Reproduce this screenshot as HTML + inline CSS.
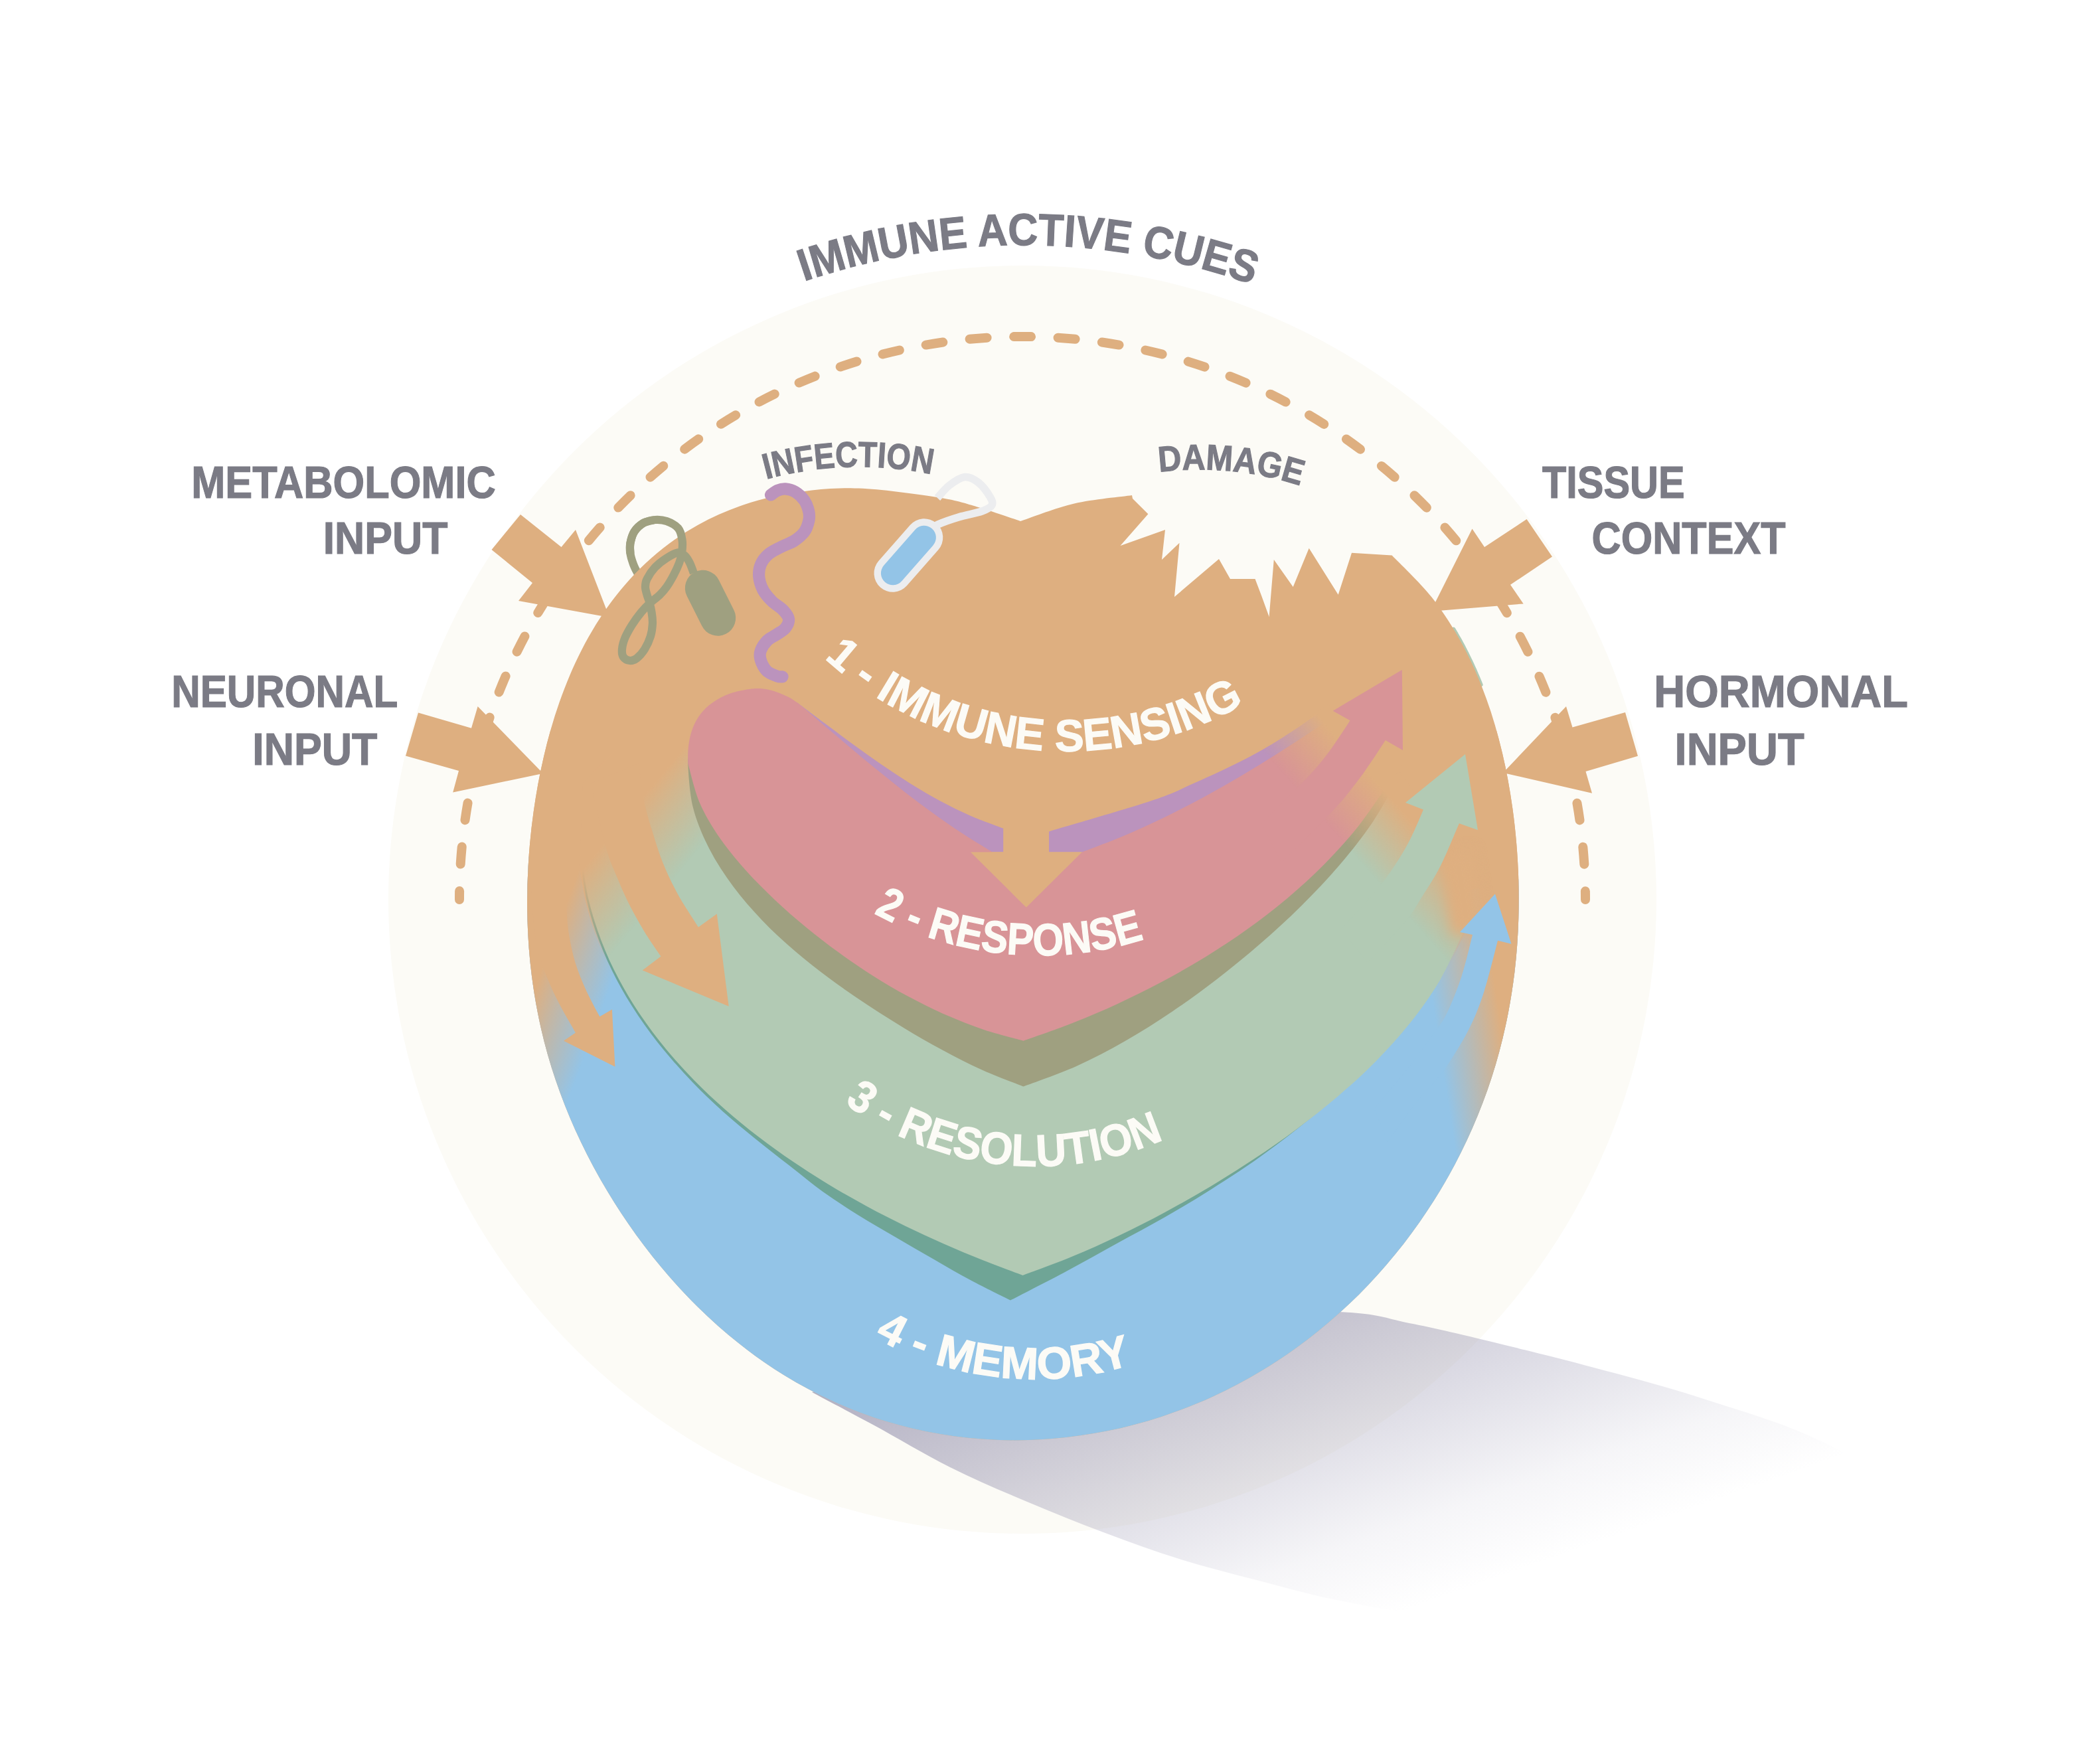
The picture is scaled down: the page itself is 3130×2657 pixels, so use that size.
<!DOCTYPE html>
<html><head><meta charset="utf-8"><title>Immune active cues</title>
<style>html,body{margin:0;padding:0;background:#fff}svg{display:block}text{font-family:"Liberation Sans",sans-serif}</style></head>
<body><svg width="3130" height="2657" viewBox="0 0 3130 2657">
<defs><linearGradient id="gsh" gradientUnits="userSpaceOnUse" x1="1223" y1="2097" x2="1426.7" y2="2671.6"><stop offset="0" stop-color="#9693AF" stop-opacity="0.73"/><stop offset="0.45" stop-color="#9693AF" stop-opacity="0.37"/><stop offset="0.8" stop-color="#9693AF" stop-opacity="0.09"/><stop offset="1" stop-color="#9693AF" stop-opacity="0"/></linearGradient><linearGradient id="gL" gradientUnits="userSpaceOnUse" x1="1162" y1="968.3" x2="1250.3" y2="1041.9"><stop offset="0" stop-color="#DEAF80" stop-opacity="1"/><stop offset="1" stop-color="#DEAF80" stop-opacity="0"/></linearGradient><linearGradient id="gR" gradientUnits="userSpaceOnUse" x1="1954.2" y1="1190.3" x2="2027.8" y2="1125.5"><stop offset="0" stop-color="#DEAF80" stop-opacity="0"/><stop offset="1" stop-color="#DEAF80" stop-opacity="1"/></linearGradient><linearGradient id="gRb" gradientUnits="userSpaceOnUse" x1="2254" y1="1496.4" x2="2158.2" y2="1510.9"><stop offset="0" stop-color="#DEAF80" stop-opacity="1"/><stop offset="1" stop-color="#DEAF80" stop-opacity="0"/></linearGradient><linearGradient id="gLb" gradientUnits="userSpaceOnUse" x1="823.4" y1="1440.1" x2="923.3" y2="1477.3"><stop offset="0" stop-color="#DEAF80" stop-opacity="1"/><stop offset="1" stop-color="#DEAF80" stop-opacity="0"/></linearGradient><linearGradient id="gWedge" gradientUnits="userSpaceOnUse" x1="2206.6" y1="1405.4" x2="2166" y2="1411.3"><stop offset="0" stop-color="#DEAF80" stop-opacity="1"/><stop offset="0.08" stop-color="#DEAF80" stop-opacity="1"/><stop offset="1" stop-color="#DEAF80" stop-opacity="0"/></linearGradient><linearGradient id="gRimL" gradientUnits="userSpaceOnUse" x1="0" y1="1380" x2="0" y2="1720"><stop offset="0" stop-color="#DEAF80" stop-opacity="1"/><stop offset="0.45" stop-color="#DEAF80" stop-opacity="0.9"/><stop offset="1" stop-color="#DEAF80" stop-opacity="0"/></linearGradient><linearGradient id="gRimR" gradientUnits="userSpaceOnUse" x1="0" y1="1380" x2="0" y2="1800"><stop offset="0" stop-color="#DEAF80" stop-opacity="1"/><stop offset="0.5" stop-color="#DEAF80" stop-opacity="0.9"/><stop offset="1" stop-color="#DEAF80" stop-opacity="0"/></linearGradient><clipPath id="cSphere"><path d="M1537,785C1550.5,780.6 1590,765 1618,758.5C1646,752 1690.5,748.1 1705,746L1706,751L1729.4,774.3L1687.5,822L1755,798L1750,843L1776.5,817.7L1769,899L1836,842L1853,872L1890.5,872L1900,897L1911.6,929L1918.8,843L1947.7,884L1971.7,825.8L2015.7,895.8L2036,832.8L2096.6,836.5C2106.6,847 2138.6,876.9 2156.5,899.6C2174.4,922.3 2190.1,947.2 2203.7,972.6C2217.4,998 2228.8,1024.9 2238.6,1051.8C2248.5,1078.7 2256.2,1106.4 2262.8,1134C2269.4,1161.5 2274.3,1189.4 2278.2,1217C2282.1,1244.7 2284.7,1272.4 2286.2,1300C2287.8,1327.6 2288.1,1355.1 2287.3,1382.5C2286.5,1409.8 2284.6,1437.1 2281.4,1464.1C2278.1,1491.1 2273.7,1518 2267.9,1544.5C2262.2,1571 2255.1,1597.3 2246.8,1623.1C2238.5,1648.8 2228.8,1674.3 2217.9,1699C2207.1,1723.8 2194.9,1748.2 2181.7,1771.8C2168.4,1795.4 2153.9,1818.5 2138.3,1840.7C2122.7,1863 2106,1884.6 2088.2,1905.2C2070.5,1925.9 2051.6,1945.8 2031.7,1964.6C2011.8,1983.4 1990.8,2001.4 1969,2018C1947.1,2034.7 1924.2,2050.4 1900.5,2064.6C1876.8,2078.9 1852.2,2092 1827,2103.5C1801.7,2115 1775.6,2125.3 1749.1,2133.9C1722.6,2142.5 1695.4,2149.7 1668,2155.3C1640.6,2160.8 1612.6,2164.8 1584.6,2167C1556.7,2169.3 1528.3,2170 1500.3,2168.8C1472.2,2167.6 1444,2164.8 1416.3,2160.1C1388.6,2155.4 1361,2149 1334.1,2140.8C1307.3,2132.6 1280.8,2122.6 1255.4,2111C1229.9,2099.5 1205,2086.1 1181.3,2071.6C1157.6,2057 1134.8,2040.8 1113.1,2023.6C1091.4,2006.5 1070.8,1987.9 1051.2,1968.7C1031.7,1949.4 1013.2,1929.1 995.7,1908.2C978.2,1887.3 961.8,1865.5 946.4,1843.2C931,1820.9 916.6,1798 903.3,1774.5C890,1751 877.7,1726.9 866.6,1702.3C855.6,1677.7 845.6,1652.5 837,1626.9C828.3,1601.3 820.9,1575.2 814.9,1548.9C808.9,1522.5 804.2,1495.7 800.8,1468.8C797.4,1441.8 795.3,1414.6 794.5,1387.3C793.6,1360.1 794,1332.6 795.6,1305.2C797.1,1277.7 799.8,1250.1 803.7,1222.6C807.6,1195.1 812.5,1167.4 819,1139.9C825.4,1112.5 833,1084.9 842.5,1058C852.1,1031.1 863,1004.2 876.2,978.7C889.5,953.1 904.6,927.9 921.9,905C939.3,882 959,860 980.6,841C1002.1,821.9 1026.2,804.7 1051.3,790.7C1076.3,776.6 1103.7,765.3 1131.1,756.8C1158.5,748.2 1187.4,742.9 1215.5,739.4C1243.7,735.9 1266.6,734.1 1299.9,735.8C1333.3,737.5 1386.8,745.1 1415.7,749.8C1444.6,754.5 1453.3,758.1 1473.5,764C1493.7,769.9 1526.4,781.5 1537,785Z"/></clipPath><mask id="mGT" maskUnits="userSpaceOnUse" x="0" y="0" width="3130" height="2657"><g fill="#fff" stroke="#fff" stroke-width="4"><path d="M876,1290C877.8,1300.9 881.7,1334.1 886.6,1355.3C891.6,1376.4 898.1,1396.9 905.7,1416.9C913.2,1436.8 922.2,1456.1 932.1,1474.8C941.9,1493.5 953,1511.6 964.8,1529.1C976.7,1546.7 989.5,1563.6 1003,1580C1016.6,1596.3 1031,1612.1 1045.9,1627.4C1060.8,1642.6 1076.5,1657.3 1092.6,1671.5C1108.7,1685.6 1125.4,1699.2 1142.5,1712.3C1159.6,1725.4 1177.2,1738 1195,1750.1C1212.8,1762.2 1231.1,1773.8 1249.6,1785C1268,1796.1 1286.8,1806.8 1305.7,1817C1324.7,1827.3 1343.9,1837.1 1363.2,1846.5C1382.5,1855.9 1402,1864.9 1421.6,1873.5C1441.2,1882.1 1460.9,1890.4 1480.7,1898.3C1500.6,1906.2 1530.5,1917.2 1540.5,1921C1552.8,1916.3 1589.9,1903 1614,1893C1638.2,1883.1 1661.8,1872.4 1685.2,1861.2C1708.7,1850 1731.8,1838.2 1754.7,1825.9C1777.6,1813.6 1800.3,1800.8 1822.7,1787.4C1845,1774 1867.3,1760.1 1889.1,1745.6C1910.9,1731.1 1932.5,1716.1 1953.4,1700.4C1974.4,1684.7 1995.1,1668.5 2015,1651.5C2034.8,1634.5 2054.2,1616.9 2072.5,1598.4C2090.7,1579.8 2108.3,1560.6 2124.4,1540.3C2140.5,1520 2155.7,1498.9 2168.9,1476.4C2182.1,1454 2197.8,1417.6 2203.6,1405.8L2190,1312L2168,1300L2160,1235L2144,1219.4L2115,1175L2100,1185L2000,1280L1545,1450L1100,1250L1030,1120L940,1120L880,1180Z"/><path d="M873.1,1290.9C874.9,1301.8 878.8,1335 883.7,1356.2C888.6,1377.4 895.1,1397.9 902.7,1417.9C910.2,1437.8 919.2,1457.2 929,1475.9C938.9,1494.7 949.9,1512.8 961.7,1530.4C973.5,1548 986.4,1565 999.8,1581.5C1013.3,1597.9 1027.5,1613.9 1042.3,1629.3C1057.1,1644.7 1072.6,1659.5 1088.6,1673.9C1104.5,1688.2 1121.3,1701.9 1138,1715.5C1154.6,1729.1 1171.7,1742.1 1188.6,1755.3C1205.4,1768.5 1221.7,1782.1 1239.1,1794.7C1256.6,1807.2 1274.8,1819.1 1293.1,1830.6C1311.5,1842.2 1330.5,1852.9 1349.4,1863.8C1368.2,1874.8 1387,1885.6 1406,1896.4C1424.9,1907.2 1443.7,1918.5 1463,1928.8C1482.4,1939.2 1512.2,1953.6 1522,1958.5C1536.1,1951.2 1580,1928.8 1606.9,1914.4C1633.7,1900.1 1658.5,1886 1683.1,1872.5C1707.7,1859 1731,1847 1754.3,1833.6C1777.6,1820.2 1800.5,1806.4 1823.1,1792.2C1845.6,1777.9 1867.9,1763.6 1889.7,1748.4C1911.4,1733.1 1932.7,1717.1 1953.5,1700.7C1974.3,1684.3 1994.8,1667.4 2014.5,1650C2034.3,1632.7 2053.7,1615.3 2072,1596.8C2090.2,1578.2 2107.8,1558.9 2123.9,1538.6C2139.9,1518.2 2155.1,1497.1 2168.3,1474.6C2181.5,1452.2 2197.2,1415.7 2203,1403.9L2100,1400L1545,1700L1000,1400L900,1300Z"/></g></mask><mask id="mRight" maskUnits="userSpaceOnUse" x="0" y="0" width="3130" height="2657"><g fill="#fff" stroke="#fff" stroke-width="4"><path d="M876,1290C877.8,1300.9 881.7,1334.1 886.6,1355.3C891.6,1376.4 898.1,1396.9 905.7,1416.9C913.2,1436.8 922.2,1456.1 932.1,1474.8C941.9,1493.5 953,1511.6 964.8,1529.1C976.7,1546.7 989.5,1563.6 1003,1580C1016.6,1596.3 1031,1612.1 1045.9,1627.4C1060.8,1642.6 1076.5,1657.3 1092.6,1671.5C1108.7,1685.6 1125.4,1699.2 1142.5,1712.3C1159.6,1725.4 1177.2,1738 1195,1750.1C1212.8,1762.2 1231.1,1773.8 1249.6,1785C1268,1796.1 1286.8,1806.8 1305.7,1817C1324.7,1827.3 1343.9,1837.1 1363.2,1846.5C1382.5,1855.9 1402,1864.9 1421.6,1873.5C1441.2,1882.1 1460.9,1890.4 1480.7,1898.3C1500.6,1906.2 1530.5,1917.2 1540.5,1921C1552.8,1916.3 1589.9,1903 1614,1893C1638.2,1883.1 1661.8,1872.4 1685.2,1861.2C1708.7,1850 1731.8,1838.2 1754.7,1825.9C1777.6,1813.6 1800.3,1800.8 1822.7,1787.4C1845,1774 1867.3,1760.1 1889.1,1745.6C1910.9,1731.1 1932.5,1716.1 1953.4,1700.4C1974.4,1684.7 1995.1,1668.5 2015,1651.5C2034.8,1634.5 2054.2,1616.9 2072.5,1598.4C2090.7,1579.8 2108.3,1560.6 2124.4,1540.3C2140.5,1520 2155.7,1498.9 2168.9,1476.4C2182.1,1454 2197.8,1417.6 2203.6,1405.8L2190,1312L2168,1300L2160,1235L2144,1219.4L2115,1175L2100,1185L2000,1280L1545,1450L1100,1250L1030,1120L940,1120L880,1180Z"/><path d="M873.1,1290.9C874.9,1301.8 878.8,1335 883.7,1356.2C888.6,1377.4 895.1,1397.9 902.7,1417.9C910.2,1437.8 919.2,1457.2 929,1475.9C938.9,1494.7 949.9,1512.8 961.7,1530.4C973.5,1548 986.4,1565 999.8,1581.5C1013.3,1597.9 1027.5,1613.9 1042.3,1629.3C1057.1,1644.7 1072.6,1659.5 1088.6,1673.9C1104.5,1688.2 1121.3,1701.9 1138,1715.5C1154.6,1729.1 1171.7,1742.1 1188.6,1755.3C1205.4,1768.5 1221.7,1782.1 1239.1,1794.7C1256.6,1807.2 1274.8,1819.1 1293.1,1830.6C1311.5,1842.2 1330.5,1852.9 1349.4,1863.8C1368.2,1874.8 1387,1885.6 1406,1896.4C1424.9,1907.2 1443.7,1918.5 1463,1928.8C1482.4,1939.2 1512.2,1953.6 1522,1958.5C1536.1,1951.2 1580,1928.8 1606.9,1914.4C1633.7,1900.1 1658.5,1886 1683.1,1872.5C1707.7,1859 1731,1847 1754.3,1833.6C1777.6,1820.2 1800.5,1806.4 1823.1,1792.2C1845.6,1777.9 1867.9,1763.6 1889.7,1748.4C1911.4,1733.1 1932.7,1717.1 1953.5,1700.7C1974.3,1684.3 1994.8,1667.4 2014.5,1650C2034.3,1632.7 2053.7,1615.3 2072,1596.8C2090.2,1578.2 2107.8,1558.9 2123.9,1538.6C2139.9,1518.2 2155.1,1497.1 2168.3,1474.6C2181.5,1452.2 2197.2,1415.7 2203,1403.9L2100,1400L1545,1700L1000,1400L900,1300Z"/><path d="M1040,1140C1039.4,1141.7 1035.5,1137.4 1036.2,1150.1C1036.9,1162.8 1038.6,1194.8 1043.9,1216.2C1049.3,1237.6 1058.3,1258.6 1068.4,1278.5C1078.5,1298.3 1091.1,1317.3 1104.4,1335.3C1117.7,1353.3 1132.7,1370.3 1148.2,1386.4C1163.6,1402.6 1180.2,1417.7 1197.1,1432.2C1214,1446.8 1231.6,1460.5 1249.4,1473.8C1267.3,1487.1 1285.6,1499.7 1304.2,1512.1C1322.8,1524.4 1341.7,1536.3 1360.9,1547.9C1380.1,1559.5 1399.6,1570.8 1419.4,1581.5C1439.2,1592.1 1459.3,1602.6 1479.7,1611.8C1500,1621 1531.2,1632.5 1541.5,1636.6C1554.7,1631.5 1595.2,1617.6 1620.7,1606.2C1646.3,1594.8 1670.7,1581.8 1694.8,1568.1C1718.9,1554.3 1742.2,1539.4 1765.2,1523.9C1788.3,1508.4 1810.8,1491.9 1832.9,1474.9C1855,1457.9 1876.8,1440.2 1897.9,1421.8C1919.1,1403.5 1939.9,1384.5 1959.8,1364.8C1979.6,1345.1 1999.1,1324.9 2017.2,1303.6C2035.2,1282.4 2052.6,1260.6 2068.1,1237.5C2083.6,1214.4 2103,1177.1 2110,1165L2000,1250L1545,1400L1100,1200Z"/><path d="M1036.2,1150.1C1036.3,1146.5 1035.9,1135.6 1036.6,1128.4C1037.3,1121.2 1038.2,1113.9 1040.2,1106.7C1042.2,1099.5 1045,1091.7 1048.9,1085C1052.8,1078.3 1057.4,1072 1063.4,1066.3C1069.4,1060.6 1077.8,1055 1085,1051C1092.2,1047 1098.2,1044.7 1106.7,1042.4C1115.2,1040.1 1127.3,1037.9 1135.7,1037.3C1144.1,1036.7 1150.1,1037.3 1157.3,1038.8C1164.5,1040.2 1171.8,1042.8 1179,1046C1186.2,1049.2 1190.4,1050.6 1200.7,1058.3C1211,1066 1227.5,1081 1241,1092.4C1254.4,1103.7 1267.7,1115.1 1281.2,1126.4C1294.6,1137.7 1308.1,1149 1321.7,1160C1335.3,1171.1 1349,1182.1 1362.8,1192.9C1376.7,1203.6 1390.7,1214.2 1404.9,1224.5C1419.2,1234.7 1433.5,1244.8 1448.3,1254.5C1463,1264.2 1485.7,1277.8 1493.2,1282.5L1545,1320L1629.7,1283.5C1640,1279.5 1671.2,1268 1691.5,1259.4C1711.8,1250.9 1731.8,1241.8 1751.6,1232.2C1771.4,1222.7 1790.9,1212.6 1810.3,1202.2C1829.6,1191.8 1848.7,1180.9 1867.6,1169.8C1886.6,1158.6 1905.3,1147.1 1923.9,1135.3C1942.4,1123.6 1960.8,1111.5 1979.1,1099.3C1997.4,1087.1 2024.5,1068.2 2033.6,1062L2110,1100L2110,1150C2106.5,1155.6 2099.8,1167.7 2089,1183.6C2078.2,1199.5 2060.9,1225.7 2045.2,1245.4C2029.5,1265.1 2012.5,1283.8 1994.8,1301.7C1977.1,1319.6 1958.4,1336.6 1939.1,1352.9C1919.8,1369.1 1899.7,1384.5 1879.2,1399.3C1858.7,1414 1837.5,1427.9 1816,1441.2C1794.5,1454.4 1772.5,1467 1750.3,1478.8C1728,1490.7 1705.3,1501.9 1682.4,1512.4C1659.5,1522.9 1636.3,1532.8 1612.8,1542C1589.3,1551.2 1553.4,1563.4 1541.5,1567.7C1531.6,1564.9 1501.5,1557.4 1481.9,1550.9C1462.3,1544.3 1442.8,1536.6 1423.8,1528.3C1404.8,1519.9 1386.1,1510.6 1367.9,1500.8C1349.7,1491 1331.9,1480.5 1314.4,1469.4C1297,1458.4 1280,1446.7 1263.2,1434.6C1246.5,1422.5 1230.2,1409.8 1214.2,1396.7C1198.2,1383.5 1182.5,1369.9 1167.4,1355.7C1152.3,1341.4 1137.4,1326.7 1123.6,1311.3C1109.9,1295.8 1096.4,1279.9 1084.8,1263C1073.2,1246 1062.2,1228.5 1054.1,1209.7C1046,1190.9 1039.2,1160 1036.2,1150.1Z"/><path d="M1580,1252.5C1605.6,1244.8 1697.1,1218.5 1733.8,1206.3C1770.5,1194 1777.4,1189 1800,1179C1822.6,1169 1850.1,1156.2 1869.4,1146.5C1888.7,1136.8 1900.3,1130.2 1915.7,1121C1931.1,1111.8 1948,1100.5 1962,1091C1976,1081.5 1993.7,1068.5 2000,1064L2020,1072L2000,1120L1800,1240L1640,1283.5L1580,1283.5Z"/></g></mask><filter id="blur9" color-interpolation-filters="sRGB" filterUnits="userSpaceOnUse" x="2050" y="1150" width="300" height="400"><feGaussianBlur stdDeviation="9"/></filter><filter id="blur14" color-interpolation-filters="sRGB" x="-20%" y="-20%" width="140%" height="140%"><feGaussianBlur stdDeviation="14"/></filter><path id="tp1" d="M1210.8,423.9A1029,1029 0 0 1 1886.1,428.6"/><path id="tp2" d="M1154,721.8A535.7,535.7 0 0 1 1403,714.4"/><path id="tp3" d="M1746,711.1A487.3,487.3 0 0 1 1958.5,731.5"/><path id="tp4" d="M1241.7,991.3A541.5,541.5 0 0 0 1874,1060"/><path id="tp5" d="M1316.1,1375.2A518.8,518.8 0 0 0 1723.7,1414.4"/><path id="tp6" d="M1272.1,1661.3A482.7,482.7 0 0 0 1752.9,1716.4"/><path id="tp7" d="M1317.5,2014.4A496.4,496.4 0 0 0 1705,2055.3"/></defs>
<rect width="3130" height="2657" fill="#fff"/>
<circle cx="1540" cy="1355" r="955" fill="#FCFBF6"/>
<path d="M1223,2097C1269.2,2082.5 1412.2,2030.3 1500,2010C1587.8,1989.7 1663.8,1980.7 1750,1975C1836.2,1969.3 1954.7,1973 2017,1976C2079.3,1979 2086.9,1986.1 2124,1993.3C2161.1,2000.5 2193.4,2008.2 2239.4,2019.3C2285.4,2030.4 2346.1,2045.2 2400,2059.7C2453.9,2074.1 2505.3,2087.3 2563,2106C2620.7,2124.7 2681.5,2141.3 2746,2172C2810.5,2202.7 2916,2270.3 2950,2290C2875,2314.5 2608.3,2411.7 2500,2437C2391.7,2462.3 2358.3,2442.7 2300,2442C2241.7,2441.3 2198.6,2438.5 2150,2433C2101.4,2427.5 2051.3,2417.8 2008.5,2409C1965.7,2400.2 1931.5,2390.1 1893,2380C1854.5,2369.9 1816,2360.5 1777.5,2348.5C1739,2336.5 1700.5,2322.4 1662,2308C1623.5,2293.6 1585,2278.1 1546.5,2261.8C1508,2245.5 1469.5,2229.2 1431,2210C1392.5,2190.8 1350.2,2165.1 1315.5,2146.3C1280.8,2127.5 1238.4,2105.2 1223,2097Z" fill="url(#gsh)"/>
<path d="M692,1355A848,848 0 0 1 2388,1355" fill="none" stroke="#DEAF80" stroke-width="14" stroke-linecap="round" stroke-dasharray="26 40.60" stroke-dashoffset="13"/>
<path d="M784,775L845.5,824L867,798L918,930L781,905L802,878L740.5,828Z" fill="#DEAF80"/>
<path d="M630,1073.5L710,1096.7L719.6,1064L818,1165L682.2,1193.4L691,1161L611,1138.6Z" fill="#DEAF80"/>
<path d="M2158,915L2217.5,796.6L2236,824L2299.6,782L2338,838.5L2275,880.8L2294.7,909.4L2166,920Z" fill="#DEAF80"/>
<path d="M2264,1164L2359,1064L2368.5,1095.5L2448,1073L2467,1138.7L2388.5,1162L2398,1194.7Z" fill="#DEAF80"/>
<path d="M986.7,783C983.9,783.8 974.6,784.8 969.4,787.7C964.2,790.7 958.8,795.7 955.5,800.7C952.2,805.8 950.5,812.6 949.4,818.1C948.4,823.6 948.7,828.5 949.4,833.7C950.2,838.9 952,844.5 953.8,849.3C955.5,854.1 957.4,857.7 959.9,862.3C962.3,866.9 965.8,872.6 968.5,877.1C971.3,881.5 975,887.2 976.3,889.2" fill="none" stroke="#9FA080" stroke-width="12.2"/>
<path d="M2189.5,947.5C2190.2,948.7 2192.4,952.4 2193.9,954.8C2195.3,957.3 2196.7,959.7 2198.1,962.2C2199.5,964.7 2200.9,967.2 2202.2,969.7C2203.6,972.2 2204.9,974.7 2206.2,977.2C2207.5,979.8 2208.8,982.3 2210.1,984.8C2211.3,987.4 2212.6,989.9 2213.8,992.5C2215.1,995 2216.3,997.6 2217.5,1000.2C2218.7,1002.8 2219.8,1005.3 2221,1007.9C2222.1,1010.5 2223.3,1013.1 2224.4,1015.7C2225.5,1018.3 2226.6,1020.9 2227.7,1023.5C2228.8,1026.2 2230.4,1030.1 2230.9,1031.4" fill="none" stroke="#B2CAB4" stroke-width="5.5" stroke-linecap="round"/>
<path d="M1537,785C1550.5,780.6 1590,765 1618,758.5C1646,752 1690.5,748.1 1705,746L1706,751L1729.4,774.3L1687.5,822L1755,798L1750,843L1776.5,817.7L1769,899L1836,842L1853,872L1890.5,872L1900,897L1911.6,929L1918.8,843L1947.7,884L1971.7,825.8L2015.7,895.8L2036,832.8L2096.6,836.5C2106.6,847 2138.6,876.9 2156.5,899.6C2174.4,922.3 2190.1,947.2 2203.7,972.6C2217.4,998 2228.8,1024.9 2238.6,1051.8C2248.5,1078.7 2256.2,1106.4 2262.8,1134C2269.4,1161.5 2274.3,1189.4 2278.2,1217C2282.1,1244.7 2284.7,1272.4 2286.2,1300C2287.8,1327.6 2288.1,1355.1 2287.3,1382.5C2286.5,1409.8 2284.6,1437.1 2281.4,1464.1C2278.1,1491.1 2273.7,1518 2267.9,1544.5C2262.2,1571 2255.1,1597.3 2246.8,1623.1C2238.5,1648.8 2228.8,1674.3 2217.9,1699C2207.1,1723.8 2194.9,1748.2 2181.7,1771.8C2168.4,1795.4 2153.9,1818.5 2138.3,1840.7C2122.7,1863 2106,1884.6 2088.2,1905.2C2070.5,1925.9 2051.6,1945.8 2031.7,1964.6C2011.8,1983.4 1990.8,2001.4 1969,2018C1947.1,2034.7 1924.2,2050.4 1900.5,2064.6C1876.8,2078.9 1852.2,2092 1827,2103.5C1801.7,2115 1775.6,2125.3 1749.1,2133.9C1722.6,2142.5 1695.4,2149.7 1668,2155.3C1640.6,2160.8 1612.6,2164.8 1584.6,2167C1556.7,2169.3 1528.3,2170 1500.3,2168.8C1472.2,2167.6 1444,2164.8 1416.3,2160.1C1388.6,2155.4 1361,2149 1334.1,2140.8C1307.3,2132.6 1280.8,2122.6 1255.4,2111C1229.9,2099.5 1205,2086.1 1181.3,2071.6C1157.6,2057 1134.8,2040.8 1113.1,2023.6C1091.4,2006.5 1070.8,1987.9 1051.2,1968.7C1031.7,1949.4 1013.2,1929.1 995.7,1908.2C978.2,1887.3 961.8,1865.5 946.4,1843.2C931,1820.9 916.6,1798 903.3,1774.5C890,1751 877.7,1726.9 866.6,1702.3C855.6,1677.7 845.6,1652.5 837,1626.9C828.3,1601.3 820.9,1575.2 814.9,1548.9C808.9,1522.5 804.2,1495.7 800.8,1468.8C797.4,1441.8 795.3,1414.6 794.5,1387.3C793.6,1360.1 794,1332.6 795.6,1305.2C797.1,1277.7 799.8,1250.1 803.7,1222.6C807.6,1195.1 812.5,1167.4 819,1139.9C825.4,1112.5 833,1084.9 842.5,1058C852.1,1031.1 863,1004.2 876.2,978.7C889.5,953.1 904.6,927.9 921.9,905C939.3,882 959,860 980.6,841C1002.1,821.9 1026.2,804.7 1051.3,790.7C1076.3,776.6 1103.7,765.3 1131.1,756.8C1158.5,748.2 1187.4,742.9 1215.5,739.4C1243.7,735.9 1266.6,734.1 1299.9,735.8C1333.3,737.5 1386.8,745.1 1415.7,749.8C1444.6,754.5 1453.3,758.1 1473.5,764C1493.7,769.9 1526.4,781.5 1537,785Z" fill="#DEAF80"/>
<g clip-path="url(#cSphere)">
<path d="M700,1290L880,1290L1000,1500L1545,1800L2100,1500L2215,1340L2400,1300L2400,2300L700,2300Z" fill="#93C4E7"/>
<rect x="700" y="1100" width="500" height="900" fill="url(#gLb)"/>
<rect x="1900" y="1100" width="500" height="900" fill="url(#gRb)"/>
<path d="M873.1,1290.9C874.9,1301.8 878.8,1335 883.7,1356.2C888.6,1377.4 895.1,1397.9 902.7,1417.9C910.2,1437.8 919.2,1457.2 929,1475.9C938.9,1494.7 949.9,1512.8 961.7,1530.4C973.5,1548 986.4,1565 999.8,1581.5C1013.3,1597.9 1027.5,1613.9 1042.3,1629.3C1057.1,1644.7 1072.6,1659.5 1088.6,1673.9C1104.5,1688.2 1121.3,1701.9 1138,1715.5C1154.6,1729.1 1171.7,1742.1 1188.6,1755.3C1205.4,1768.5 1221.7,1782.1 1239.1,1794.7C1256.6,1807.2 1274.8,1819.1 1293.1,1830.6C1311.5,1842.2 1330.5,1852.9 1349.4,1863.8C1368.2,1874.8 1387,1885.6 1406,1896.4C1424.9,1907.2 1443.7,1918.5 1463,1928.8C1482.4,1939.2 1512.2,1953.6 1522,1958.5C1536.1,1951.2 1580,1928.8 1606.9,1914.4C1633.7,1900.1 1658.5,1886 1683.1,1872.5C1707.7,1859 1731,1847 1754.3,1833.6C1777.6,1820.2 1800.5,1806.4 1823.1,1792.2C1845.6,1777.9 1867.9,1763.6 1889.7,1748.4C1911.4,1733.1 1932.7,1717.1 1953.5,1700.7C1974.3,1684.3 1994.8,1667.4 2014.5,1650C2034.3,1632.7 2053.7,1615.3 2072,1596.8C2090.2,1578.2 2107.8,1558.9 2123.9,1538.6C2139.9,1518.2 2155.1,1497.1 2168.3,1474.6C2181.5,1452.2 2197.2,1415.7 2203,1403.9L2100,1400L1545,1700L1000,1400L900,1300Z" fill="#6FA596"/>
<path d="M876,1290C877.8,1300.9 881.7,1334.1 886.6,1355.3C891.6,1376.4 898.1,1396.9 905.7,1416.9C913.2,1436.8 922.2,1456.1 932.1,1474.8C941.9,1493.5 953,1511.6 964.8,1529.1C976.7,1546.7 989.5,1563.6 1003,1580C1016.6,1596.3 1031,1612.1 1045.9,1627.4C1060.8,1642.6 1076.5,1657.3 1092.6,1671.5C1108.7,1685.6 1125.4,1699.2 1142.5,1712.3C1159.6,1725.4 1177.2,1738 1195,1750.1C1212.8,1762.2 1231.1,1773.8 1249.6,1785C1268,1796.1 1286.8,1806.8 1305.7,1817C1324.7,1827.3 1343.9,1837.1 1363.2,1846.5C1382.5,1855.9 1402,1864.9 1421.6,1873.5C1441.2,1882.1 1460.9,1890.4 1480.7,1898.3C1500.6,1906.2 1530.5,1917.2 1540.5,1921C1552.8,1916.3 1589.9,1903 1614,1893C1638.2,1883.1 1661.8,1872.4 1685.2,1861.2C1708.7,1850 1731.8,1838.2 1754.7,1825.9C1777.6,1813.6 1800.3,1800.8 1822.7,1787.4C1845,1774 1867.3,1760.1 1889.1,1745.6C1910.9,1731.1 1932.5,1716.1 1953.4,1700.4C1974.4,1684.7 1995.1,1668.5 2015,1651.5C2034.8,1634.5 2054.2,1616.9 2072.5,1598.4C2090.7,1579.8 2108.3,1560.6 2124.4,1540.3C2140.5,1520 2155.7,1498.9 2168.9,1476.4C2182.1,1454 2197.8,1417.6 2203.6,1405.8L2190,1312L2168,1300L2160,1235L2144,1219.4L2115,1175L2100,1185L2000,1280L1545,1450L1100,1250L1030,1120L940,1120L880,1180Z" fill="#B2CAB4"/>
<rect x="700" y="1100" width="500" height="800" fill="url(#gL)" mask="url(#mGT)"/>
<path d="M1040,1140C1039.4,1141.7 1035.5,1137.4 1036.2,1150.1C1036.9,1162.8 1038.6,1194.8 1043.9,1216.2C1049.3,1237.6 1058.3,1258.6 1068.4,1278.5C1078.5,1298.3 1091.1,1317.3 1104.4,1335.3C1117.7,1353.3 1132.7,1370.3 1148.2,1386.4C1163.6,1402.6 1180.2,1417.7 1197.1,1432.2C1214,1446.8 1231.6,1460.5 1249.4,1473.8C1267.3,1487.1 1285.6,1499.7 1304.2,1512.1C1322.8,1524.4 1341.7,1536.3 1360.9,1547.9C1380.1,1559.5 1399.6,1570.8 1419.4,1581.5C1439.2,1592.1 1459.3,1602.6 1479.7,1611.8C1500,1621 1531.2,1632.5 1541.5,1636.6C1554.7,1631.5 1595.2,1617.6 1620.7,1606.2C1646.3,1594.8 1670.7,1581.8 1694.8,1568.1C1718.9,1554.3 1742.2,1539.4 1765.2,1523.9C1788.3,1508.4 1810.8,1491.9 1832.9,1474.9C1855,1457.9 1876.8,1440.2 1897.9,1421.8C1919.1,1403.5 1939.9,1384.5 1959.8,1364.8C1979.6,1345.1 1999.1,1324.9 2017.2,1303.6C2035.2,1282.4 2052.6,1260.6 2068.1,1237.5C2083.6,1214.4 2103,1177.1 2110,1165L2000,1250L1545,1400L1100,1200Z" fill="#9FA080"/>
<path d="M1200.7,1058.3C1207.7,1063.5 1228.5,1079.2 1242.4,1089.6C1256.4,1100.1 1270.3,1110.6 1284.4,1120.8C1298.4,1131.1 1312.5,1141.3 1326.9,1151.1C1341.2,1161 1355.7,1170.6 1370.4,1179.8C1385.2,1188.9 1400.1,1197.8 1415.4,1205.9C1430.7,1214.1 1446.3,1221.9 1462.3,1228.9C1478.3,1235.8 1503.2,1244.6 1511.4,1247.8L1511.4,1283.3L1480,1283.3L1400,1260L1250,1150L1200,1090Z" fill="#BB93BD"/>
<path d="M1580,1252.5C1605.6,1244.8 1697.1,1218.5 1733.8,1206.3C1770.5,1194 1777.4,1189 1800,1179C1822.6,1169 1850.1,1156.2 1869.4,1146.5C1888.7,1136.8 1900.3,1130.2 1915.7,1121C1931.1,1111.8 1948,1100.5 1962,1091C1976,1081.5 1993.7,1068.5 2000,1064L2020,1072L2000,1120L1800,1240L1640,1283.5L1580,1283.5Z" fill="#BB93BD"/>
<path d="M1036.2,1150.1C1036.3,1146.5 1035.9,1135.6 1036.6,1128.4C1037.3,1121.2 1038.2,1113.9 1040.2,1106.7C1042.2,1099.5 1045,1091.7 1048.9,1085C1052.8,1078.3 1057.4,1072 1063.4,1066.3C1069.4,1060.6 1077.8,1055 1085,1051C1092.2,1047 1098.2,1044.7 1106.7,1042.4C1115.2,1040.1 1127.3,1037.9 1135.7,1037.3C1144.1,1036.7 1150.1,1037.3 1157.3,1038.8C1164.5,1040.2 1171.8,1042.8 1179,1046C1186.2,1049.2 1190.4,1050.6 1200.7,1058.3C1211,1066 1227.5,1081 1241,1092.4C1254.4,1103.7 1267.7,1115.1 1281.2,1126.4C1294.6,1137.7 1308.1,1149 1321.7,1160C1335.3,1171.1 1349,1182.1 1362.8,1192.9C1376.7,1203.6 1390.7,1214.2 1404.9,1224.5C1419.2,1234.7 1433.5,1244.8 1448.3,1254.5C1463,1264.2 1485.7,1277.8 1493.2,1282.5L1545,1320L1629.7,1283.5C1640,1279.5 1671.2,1268 1691.5,1259.4C1711.8,1250.9 1731.8,1241.8 1751.6,1232.2C1771.4,1222.7 1790.9,1212.6 1810.3,1202.2C1829.6,1191.8 1848.7,1180.9 1867.6,1169.8C1886.6,1158.6 1905.3,1147.1 1923.9,1135.3C1942.4,1123.6 1960.8,1111.5 1979.1,1099.3C1997.4,1087.1 2024.5,1068.2 2033.6,1062L2110,1100L2110,1150C2106.5,1155.6 2099.8,1167.7 2089,1183.6C2078.2,1199.5 2060.9,1225.7 2045.2,1245.4C2029.5,1265.1 2012.5,1283.8 1994.8,1301.7C1977.1,1319.6 1958.4,1336.6 1939.1,1352.9C1919.8,1369.1 1899.7,1384.5 1879.2,1399.3C1858.7,1414 1837.5,1427.9 1816,1441.2C1794.5,1454.4 1772.5,1467 1750.3,1478.8C1728,1490.7 1705.3,1501.9 1682.4,1512.4C1659.5,1522.9 1636.3,1532.8 1612.8,1542C1589.3,1551.2 1553.4,1563.4 1541.5,1567.7C1531.6,1564.9 1501.5,1557.4 1481.9,1550.9C1462.3,1544.3 1442.8,1536.6 1423.8,1528.3C1404.8,1519.9 1386.1,1510.6 1367.9,1500.8C1349.7,1491 1331.9,1480.5 1314.4,1469.4C1297,1458.4 1280,1446.7 1263.2,1434.6C1246.5,1422.5 1230.2,1409.8 1214.2,1396.7C1198.2,1383.5 1182.5,1369.9 1167.4,1355.7C1152.3,1341.4 1137.4,1326.7 1123.6,1311.3C1109.9,1295.8 1096.4,1279.9 1084.8,1263C1073.2,1246 1062.2,1228.5 1054.1,1209.7C1046,1190.9 1039.2,1160 1036.2,1150.1Z" fill="#D89497"/>
<rect x="1850" y="950" width="500" height="700" fill="url(#gR)" mask="url(#mRight)"/>
<path d="M2211.5,1404.7L2193.8,1282.7" stroke="#DEAF80" stroke-width="50" filter="url(#blur9)"/>
<path d="M2086.8,1114.9L2113,1129.9L2111.8,1008.9L2007.7,1070.7L2033.6,1085.2C2029.4,1091.6 2016.3,1112 2008.2,1123.4C2000.1,1134.8 1993.1,1143.9 1985,1153.5C1976.9,1163.1 1973.8,1166.6 1959.6,1181C1945.4,1195.4 1909.9,1230.2 1900,1240L1930,1300C1943,1286.8 1989.4,1240.8 2008.2,1220.6C2027,1200.4 2033.3,1191.3 2042.9,1179C2052.5,1166.7 2058.7,1157.2 2066,1146.5C2073.3,1135.8 2083.3,1120.2 2086.8,1114.9Z" fill="#D89497"/>
<path d="M2197.9,1240.2L2226,1250.2L2207,1136L2117,1209L2144,1219.4C2140.7,1226.9 2131.1,1250.4 2123.9,1264.5C2116.7,1278.6 2109.2,1291.1 2100.7,1303.8C2092.2,1316.5 2086.4,1324.9 2073,1340.9C2059.6,1356.9 2028.8,1390.2 2020,1400L2060,1450C2069.5,1439.7 2103.3,1404.7 2117,1388C2130.7,1371.3 2133.6,1364 2142.4,1350C2151.2,1336 2160.8,1322.1 2170,1303.8C2179.2,1285.5 2193.2,1250.8 2197.9,1240.2Z" fill="#B2CAB4"/>
<path d="M2256,1416.8L2276.5,1421.7L2252,1346.5L2199,1404L2218,1408C2215.2,1418.5 2208,1450.8 2201.4,1470.7C2194.8,1490.6 2186.3,1512.3 2178.7,1527.4C2171.1,1542.5 2165.8,1547.6 2156,1561.4C2146.2,1575.2 2134.3,1591.9 2120,1610C2105.7,1628.1 2078.3,1660 2070,1670L2090,1720C2096.7,1710.8 2118.2,1680.1 2130,1665C2141.8,1649.9 2152.5,1639.1 2160.6,1629.4C2168.7,1619.7 2170,1620 2178.7,1606.8C2187.4,1593.6 2203.2,1568.9 2212.7,1550C2222.1,1531.1 2228.2,1515.6 2235.4,1493.4C2242.6,1471.2 2252.6,1429.6 2256,1416.8Z" fill="#93C4E7"/>
<path d="M995.4,1440.4L967.7,1461.5L1097.7,1515.8L1079.8,1376.4L1052,1396.5C1046.9,1388.3 1030.3,1363.7 1021.3,1347.4C1012.3,1331.1 1004.8,1315.1 998.2,1298.9C991.7,1282.7 986.2,1263.8 982,1250.3C977.8,1236.8 975,1227.2 972.7,1217.9C970.4,1208.7 969.8,1206.1 968,1194.8C966.2,1183.5 963,1157.5 962,1150L890,1180C893.8,1196 906.1,1252.4 912.6,1275.7C919.1,1299 923,1305.4 928.8,1319.7C934.6,1334 940.4,1347.4 947.3,1361.3C954.2,1375.2 962.4,1389.8 970.4,1403C978.4,1416.2 991.2,1434.2 995.4,1440.4Z" fill="#DEAF80"/>
<path d="M866.9,1555.6L849,1567.7L926.4,1606.8L921.9,1520.5L903.3,1531.3C899.8,1524.6 888.7,1504.6 882.5,1490.9C876.3,1477.2 870.5,1463.1 866.3,1449.2C862,1435.3 859.1,1420.3 857,1407.6C854.9,1394.9 854.3,1385.8 853.6,1372.9C852.9,1360 853.1,1337.2 853,1330L800,1330C800.8,1341.7 802.8,1381.3 805,1400C807.2,1418.7 807.8,1425.6 813,1442.3C818.2,1459 827.3,1481.1 836.3,1500C845.3,1518.9 861.8,1546.3 866.9,1555.6Z" fill="#DEAF80"/>
<path d="M1511.5,1230L1511.5,1283.5L1462,1283.5L1545.8,1366.8L1629.7,1283.5L1580,1283.5L1580,1230Z" fill="#DEAF80"/>
</g>
<path d="M1396,801C1398.8,799.2 1404.7,793.7 1412.8,790C1420.9,786.3 1433.6,782 1444.6,778.7C1455.6,775.4 1470.8,773 1479,770C1487.2,767 1492,764.7 1494,761C1496,757.3 1494.4,753.7 1491,748C1487.6,742.3 1479.8,731.5 1473.5,726.6C1467.2,721.7 1460.2,717.8 1453,718.5C1445.8,719.2 1436.8,725.8 1430,731C1423.2,736.2 1415,746.8 1412,750" fill="none" stroke="#ECEDEF" stroke-width="11.5"/>
<path d="M1344.8,863.4L1392,809.6" stroke="#ECEDEF" stroke-width="56.6" stroke-linecap="round"/>
<path d="M1344.8,863.4L1392,809.6" stroke="#93C4E7" stroke-width="35.8" stroke-linecap="round"/>
<path d="M1044.9,863.2C1043.9,860.6 1041,851.9 1038.8,847.6C1036.6,843.2 1034.7,839.7 1031.9,837.2C1029,834.6 1026.1,831.7 1021.4,832.3C1016.8,832.9 1009.9,836.9 1004.1,840.6C998.3,844.3 991.7,849.3 986.7,854.5C981.8,859.7 977.1,866.9 974.6,871.9C972.1,876.8 972,879.9 972,884C972,888 973.6,892.4 974.6,896.1C975.6,899.9 976.9,902.2 978.1,906.6C979.2,910.9 980.7,916.7 981.5,922.2C982.4,927.7 983.2,933.4 982.9,939.5C982.6,945.6 981.8,952.2 979.8,958.6C977.8,965 974.6,972.2 971.1,977.7C967.7,983.2 962.7,988.7 959,991.6C955.2,994.5 951.9,995.3 948.6,995C945.3,994.7 941,992.7 939,989.8C937.1,986.9 936.5,982.6 937,977.7C937.4,972.8 939.1,966.4 941.6,960.3C944.2,954.3 948,947.6 952,941.2C956.1,934.9 961.6,927.5 965.9,922.2C970.3,916.8 973.4,913.5 978.1,909.2C982.7,904.8 989.3,900.3 993.7,896.1C998,891.9 1000.6,888.9 1004.1,884C1007.6,879.1 1011.3,872.7 1014.5,866.6C1017.7,860.6 1021.1,853.3 1023.2,847.6C1025.3,841.8 1026.4,837.7 1027.2,832C1027.9,826.2 1028.5,818.9 1027.5,812.9C1026.6,806.8 1025.3,800.1 1021.4,795.5C1017.5,790.9 1009.9,787.2 1004.1,785.1C998.3,783 992.5,782.6 986.7,783C981,783.5 974.6,784.8 969.4,787.7C964.2,790.7 958.8,795.7 955.5,800.7C952.2,805.8 950.5,812.6 949.4,818.1C948.4,823.6 949.4,831.1 949.4,833.7" fill="none" stroke="#9FA080" stroke-width="12.2" stroke-linejoin="round"/>
<path d="M1058.7,885.7L1081.3,930.8" stroke="#9FA080" stroke-width="53.8" stroke-linecap="round"/>
<path d="M1161,745.5C1162.7,744.4 1167.5,740.2 1171.2,738.7C1174.9,737.2 1178.5,736 1183,736.4C1187.5,736.8 1193.2,738.1 1198,741C1202.8,743.9 1208.2,748.9 1211.6,753.9C1215,758.9 1217.2,765.7 1218.3,770.7C1219.4,775.8 1219.4,779.2 1218.3,784.2C1217.2,789.2 1215.2,796 1211.6,801C1207.9,806 1202.3,810.7 1196.4,814.5C1190.5,818.3 1182.7,820.6 1176.2,824C1169.8,827.4 1162.7,830.4 1157.7,834.7C1152.7,839 1148.4,844.4 1146,850C1143.6,855.6 1142.7,862 1143.2,868.4C1143.8,874.8 1146,882.4 1149.3,888.6C1152.5,894.8 1157.7,900.4 1162.7,905.5C1167.8,910.6 1175.4,914.5 1179.6,919C1183.8,923.5 1187.4,927.9 1188,932.4C1188.6,936.9 1186,942.1 1183,946C1180,949.9 1174.5,952.4 1170,955.5C1165.5,958.6 1160,960.5 1156,964.5C1152,968.5 1147.8,974.6 1146,979.4C1144.2,984.2 1144,988.1 1145.5,993.3C1147,998.5 1150.8,1006.4 1155,1010.6C1159.2,1014.8 1166.7,1017 1170.6,1018.5C1174.5,1020 1177.2,1019.2 1178.5,1019.3" fill="none" stroke="#BB93BD" stroke-width="18.2" stroke-linecap="round"/>
<text x="288.3" y="749.6" font-size="68" font-weight="bold" fill="#7B7B85" stroke="#7B7B85" stroke-width="1.2" textLength="458.4" lengthAdjust="spacingAndGlyphs">METABOLOMIC</text>
<text x="486.7" y="834.4" font-size="68" font-weight="bold" fill="#7B7B85" stroke="#7B7B85" stroke-width="1.2" textLength="187.7" lengthAdjust="spacingAndGlyphs">INPUT</text>
<text x="258.2" y="1065.4" font-size="68" font-weight="bold" fill="#7B7B85" stroke="#7B7B85" stroke-width="1.2" textLength="341.1" lengthAdjust="spacingAndGlyphs">NEURONAL</text>
<text x="380.3" y="1151.6" font-size="68" font-weight="bold" fill="#7B7B85" stroke="#7B7B85" stroke-width="1.2" textLength="188" lengthAdjust="spacingAndGlyphs">INPUT</text>
<text x="2323" y="749.6" font-size="68" font-weight="bold" fill="#7B7B85" stroke="#7B7B85" stroke-width="1.2" textLength="214.7" lengthAdjust="spacingAndGlyphs">TISSUE</text>
<text x="2397.6" y="834.4" font-size="68" font-weight="bold" fill="#7B7B85" stroke="#7B7B85" stroke-width="1.2" textLength="291.9" lengthAdjust="spacingAndGlyphs">CONTEXT</text>
<text x="2491.3" y="1065.4" font-size="68" font-weight="bold" fill="#7B7B85" stroke="#7B7B85" stroke-width="1.2" textLength="382.7" lengthAdjust="spacingAndGlyphs">HORMONAL</text>
<text x="2522.6" y="1151.6" font-size="68" font-weight="bold" fill="#7B7B85" stroke="#7B7B85" stroke-width="1.2" textLength="195" lengthAdjust="spacingAndGlyphs">INPUT</text>
<text font-size="68" font-weight="bold" fill="#7B7B85" stroke="#7B7B85" stroke-width="1.2"><textPath href="#tp1" textLength="688.1" lengthAdjust="spacingAndGlyphs">IMMUNE ACTIVE CUES</textPath></text>
<text font-size="54" font-weight="bold" fill="#7B7B85" stroke="#7B7B85" stroke-width="1.2"><textPath href="#tp2" textLength="251.4" lengthAdjust="spacingAndGlyphs">INFECTION</textPath></text>
<text font-size="54" font-weight="bold" fill="#7B7B85" stroke="#7B7B85" stroke-width="1.2"><textPath href="#tp3" textLength="215.2" lengthAdjust="spacingAndGlyphs">DAMAGE</textPath></text>
<text font-size="68" font-weight="bold" fill="#FCFBF6" stroke="#FCFBF6" stroke-width="1.2"><textPath href="#tp4" textLength="679.8" lengthAdjust="spacingAndGlyphs">1 - IMMUNE SENSING</textPath></text>
<text font-size="68" font-weight="bold" fill="#FCFBF6" stroke="#FCFBF6" stroke-width="1.2"><textPath href="#tp5" textLength="420.9" lengthAdjust="spacingAndGlyphs">2 - RESPONSE</textPath></text>
<text font-size="68" font-weight="bold" fill="#FCFBF6" stroke="#FCFBF6" stroke-width="1.2"><textPath href="#tp6" textLength="507" lengthAdjust="spacingAndGlyphs">3 - RESOLUTION</textPath></text>
<text font-size="68" font-weight="bold" fill="#FCFBF6" stroke="#FCFBF6" stroke-width="1.2"><textPath href="#tp7" textLength="400.5" lengthAdjust="spacingAndGlyphs">4 - MEMORY</textPath></text>
</svg></body></html>
